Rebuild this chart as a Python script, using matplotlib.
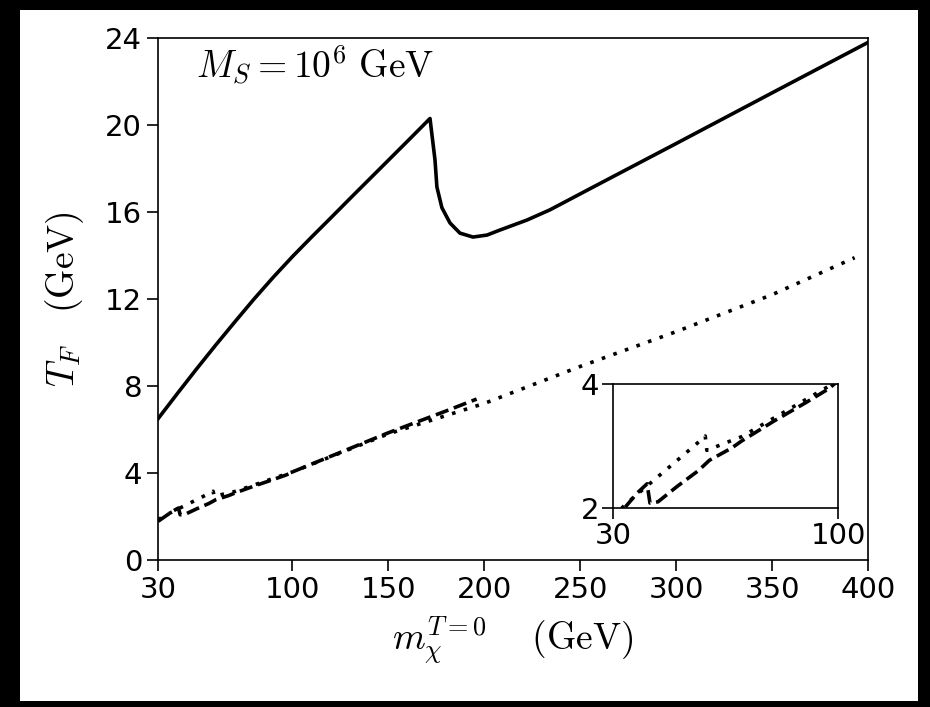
import matplotlib
matplotlib.use("Agg")
import matplotlib.pyplot as plt
from matplotlib.patches import Rectangle

plt.rcParams['mathtext.fontset'] = 'cm'
plt.rcParams['font.size'] = 21

# solid curve
m_solid = [30, 40, 50, 60, 70, 80, 90, 100, 110, 120, 130, 140, 150, 160, 171.7,
           173.2, 174.3, 175.3, 177.9, 182.1, 187.3, 194.1, 201.4, 208.1,
           222.2, 234.2, 260, 300, 350, 400]
T_solid = [6.5, 7.65, 8.78, 9.88, 10.95, 12.0, 13.0, 13.95, 14.85, 15.73,
           16.62, 17.5, 18.38, 19.26, 20.3,
           19.2, 18.4, 17.15, 16.2, 15.5, 15.03, 14.85, 14.94, 15.17,
           15.63, 16.1, 17.3, 19.15, 21.48, 23.8]

# dotted curve
m_dot = [30, 33.7, 40, 45, 50, 55, 58.7, 59.2, 65, 70, 80, 90, 100,
         150, 200, 250, 300, 350, 393]
T_dot = [1.85, 2.05, 2.33, 2.55, 2.77, 2.99, 3.16, 2.93, 3.05, 3.15, 3.45, 3.75, 4.05,
         5.8, 7.2, 8.9, 10.5, 12.2, 13.9]

# dashed curve
m_dash = [30, 37.5, 40.6, 41.5, 44, 50, 56.5, 60, 67, 70, 80, 90, 97, 100,
          150, 180, 196]
T_dash = [1.78, 2.24, 2.39, 2.08, 2.1, 2.35, 2.6, 2.77, 2.97, 3.08, 3.4, 3.7, 3.92, 4.05,
          5.85, 6.85, 7.4]

fig = plt.figure(figsize=(9.3, 7.07), dpi=100)
fig.patch.set_facecolor('black')
fig.patches.append(Rectangle((20 / 930, 6 / 707), 898 / 930, 691 / 707,
                             transform=fig.transFigure, facecolor='white',
                             edgecolor='none', zorder=-1))

ax = fig.add_axes([0.170, 0.2079, 0.7634, 0.7383])
ax.plot(m_solid, T_solid, color='black', lw=2.6)
ax.plot(m_dot, T_dot, color='black', lw=2.6, linestyle=(0, (1, 2.4)))
ax.plot(m_dash, T_dash, color='black', lw=2.6, linestyle='--')
ax.set_xlim(30, 400)
ax.set_ylim(0, 24)
ax.set_xticks([30, 100, 150, 200, 250, 300, 350, 400])
ax.set_yticks([0, 4, 8, 12, 16, 20, 24])
ax.tick_params(length=8, width=1.2, labelsize=21)
for s in ax.spines.values():
    s.set_linewidth(1.2)
ax.set_xlabel(r'$m_\chi^{T=0}\quad\ (\mathrm{GeV})$', fontsize=27, labelpad=8)
ax.set_ylabel(r'$T_F\quad(\mathrm{GeV})$', fontsize=27, labelpad=14)
ax.text(0.053, 0.99, r'$M_S=10^6\ \mathrm{GeV}$', transform=ax.transAxes,
        fontsize=27, va='top', ha='left')

ins = fig.add_axes([613 / 930, 1 - 508 / 707, 225 / 930, 124 / 707])
ins.plot(m_dot, T_dot, color='black', lw=2.6, linestyle=(0, (1, 2.4)))
ins.plot(m_dash, T_dash, color='black', lw=2.6, linestyle='--')
ins.set_xlim(30, 100)
ins.set_ylim(2, 4)
ins.set_xticks([30, 100])
ins.set_yticks([2, 4])
ins.tick_params(length=8, width=1.2, labelsize=21, pad=2)
for s in ins.spines.values():
    s.set_linewidth(1.2)

fig.savefig('out.png', dpi=100, facecolor=fig.get_facecolor())
